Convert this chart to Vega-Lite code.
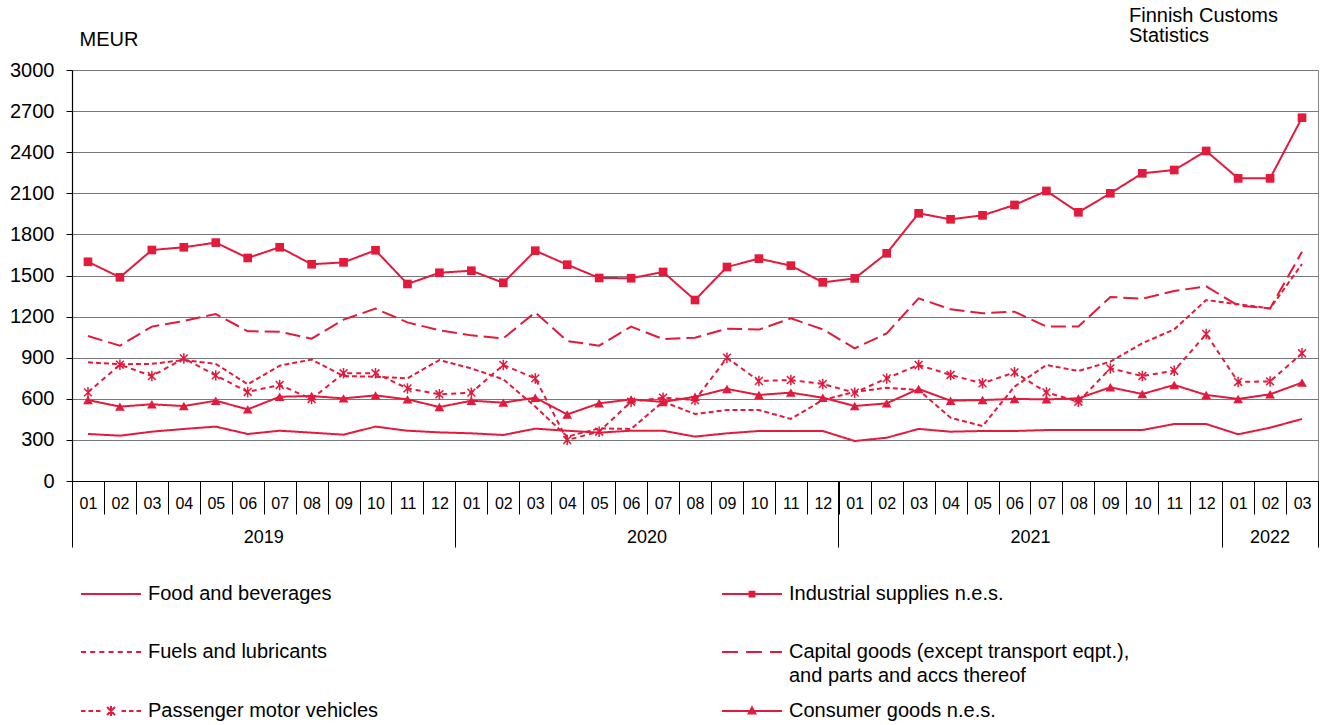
{
  "$schema": "https://vega.github.io/schema/vega-lite/v6.json",
  "autosize": {"type": "none"},
  "width": 1246,
  "height": 411,
  "padding": {"left": 72, "top": 70, "right": 4, "bottom": 244},
  "background": "white",
  "config": {
    "font": "Liberation Sans",
    "view": {"stroke": "#888888", "strokeWidth": 1},
    "style": {"guide-label": {"lineHeight": 24}}
  },
  "title": {
    "text": ["Finnish Customs", "Statistics"],
    "anchor": "end",
    "align": "left",
    "frame": "group",
    "dx": -189,
    "fontSize": 20,
    "fontWeight": "normal",
    "font": "Liberation Sans",
    "color": "black",
    "lineHeight": 20,
    "offset": -17
  },
  "data": {"values": [
    {"m":"2019-01","s":"Food and beverages","v":343},{"m":"2019-02","s":"Food and beverages","v":331},{"m":"2019-03","s":"Food and beverages","v":360},{"m":"2019-04","s":"Food and beverages","v":380},{"m":"2019-05","s":"Food and beverages","v":397},{"m":"2019-06","s":"Food and beverages","v":343},{"m":"2019-07","s":"Food and beverages","v":367},{"m":"2019-08","s":"Food and beverages","v":353},{"m":"2019-09","s":"Food and beverages","v":338},{"m":"2019-10","s":"Food and beverages","v":397},{"m":"2019-11","s":"Food and beverages","v":367},{"m":"2019-12","s":"Food and beverages","v":355},
    {"m":"2020-01","s":"Food and beverages","v":348},{"m":"2020-02","s":"Food and beverages","v":336},{"m":"2020-03","s":"Food and beverages","v":382},{"m":"2020-04","s":"Food and beverages","v":367},{"m":"2020-05","s":"Food and beverages","v":353},{"m":"2020-06","s":"Food and beverages","v":367},{"m":"2020-07","s":"Food and beverages","v":367},{"m":"2020-08","s":"Food and beverages","v":324},{"m":"2020-09","s":"Food and beverages","v":348},{"m":"2020-10","s":"Food and beverages","v":365},{"m":"2020-11","s":"Food and beverages","v":365},{"m":"2020-12","s":"Food and beverages","v":365},
    {"m":"2021-01","s":"Food and beverages","v":292},{"m":"2021-02","s":"Food and beverages","v":316},{"m":"2021-03","s":"Food and beverages","v":380},{"m":"2021-04","s":"Food and beverages","v":360},{"m":"2021-05","s":"Food and beverages","v":365},{"m":"2021-06","s":"Food and beverages","v":365},{"m":"2021-07","s":"Food and beverages","v":372},{"m":"2021-08","s":"Food and beverages","v":372},{"m":"2021-09","s":"Food and beverages","v":372},{"m":"2021-10","s":"Food and beverages","v":372},{"m":"2021-11","s":"Food and beverages","v":416},{"m":"2021-12","s":"Food and beverages","v":416},
    {"m":"2022-01","s":"Food and beverages","v":341},{"m":"2022-02","s":"Food and beverages","v":389},{"m":"2022-03","s":"Food and beverages","v":453},

    {"m":"2019-01","s":"Industrial supplies n.e.s.","v":1600},{"m":"2019-02","s":"Industrial supplies n.e.s.","v":1487},{"m":"2019-03","s":"Industrial supplies n.e.s.","v":1686},{"m":"2019-04","s":"Industrial supplies n.e.s.","v":1706},{"m":"2019-05","s":"Industrial supplies n.e.s.","v":1740},{"m":"2019-06","s":"Industrial supplies n.e.s.","v":1628},{"m":"2019-07","s":"Industrial supplies n.e.s.","v":1706},{"m":"2019-08","s":"Industrial supplies n.e.s.","v":1582},{"m":"2019-09","s":"Industrial supplies n.e.s.","v":1596},{"m":"2019-10","s":"Industrial supplies n.e.s.","v":1684},{"m":"2019-11","s":"Industrial supplies n.e.s.","v":1438},{"m":"2019-12","s":"Industrial supplies n.e.s.","v":1520},
    {"m":"2020-01","s":"Industrial supplies n.e.s.","v":1535},{"m":"2020-02","s":"Industrial supplies n.e.s.","v":1447},{"m":"2020-03","s":"Industrial supplies n.e.s.","v":1681},{"m":"2020-04","s":"Industrial supplies n.e.s.","v":1579},{"m":"2020-05","s":"Industrial supplies n.e.s.","v":1482},{"m":"2020-06","s":"Industrial supplies n.e.s.","v":1480},{"m":"2020-07","s":"Industrial supplies n.e.s.","v":1526},{"m":"2020-08","s":"Industrial supplies n.e.s.","v":1321},{"m":"2020-09","s":"Industrial supplies n.e.s.","v":1562},{"m":"2020-10","s":"Industrial supplies n.e.s.","v":1623},{"m":"2020-11","s":"Industrial supplies n.e.s.","v":1572},{"m":"2020-12","s":"Industrial supplies n.e.s.","v":1450},
    {"m":"2021-01","s":"Industrial supplies n.e.s.","v":1479},{"m":"2021-02","s":"Industrial supplies n.e.s.","v":1662},{"m":"2021-03","s":"Industrial supplies n.e.s.","v":1954},{"m":"2021-04","s":"Industrial supplies n.e.s.","v":1910},{"m":"2021-05","s":"Industrial supplies n.e.s.","v":1939},{"m":"2021-06","s":"Industrial supplies n.e.s.","v":2015},{"m":"2021-07","s":"Industrial supplies n.e.s.","v":2117},{"m":"2021-08","s":"Industrial supplies n.e.s.","v":1961},{"m":"2021-09","s":"Industrial supplies n.e.s.","v":2100},{"m":"2021-10","s":"Industrial supplies n.e.s.","v":2246},{"m":"2021-11","s":"Industrial supplies n.e.s.","v":2270},{"m":"2021-12","s":"Industrial supplies n.e.s.","v":2409},
    {"m":"2022-01","s":"Industrial supplies n.e.s.","v":2209},{"m":"2022-02","s":"Industrial supplies n.e.s.","v":2209},{"m":"2022-03","s":"Industrial supplies n.e.s.","v":2652},

    {"m":"2019-01","s":"Fuels and lubricants","v":866},{"m":"2019-02","s":"Fuels and lubricants","v":852},{"m":"2019-03","s":"Fuels and lubricants","v":855},{"m":"2019-04","s":"Fuels and lubricants","v":883},{"m":"2019-05","s":"Fuels and lubricants","v":855},{"m":"2019-06","s":"Fuels and lubricants","v":706},{"m":"2019-07","s":"Fuels and lubricants","v":842},{"m":"2019-08","s":"Fuels and lubricants","v":886},{"m":"2019-09","s":"Fuels and lubricants","v":766},{"m":"2019-10","s":"Fuels and lubricants","v":761},{"m":"2019-11","s":"Fuels and lubricants","v":749},{"m":"2019-12","s":"Fuels and lubricants","v":883},
    {"m":"2020-01","s":"Fuels and lubricants","v":822},{"m":"2020-02","s":"Fuels and lubricants","v":742},{"m":"2020-03","s":"Fuels and lubricants","v":543},{"m":"2020-04","s":"Fuels and lubricants","v":324},{"m":"2020-05","s":"Fuels and lubricants","v":384},{"m":"2020-06","s":"Fuels and lubricants","v":380},{"m":"2020-07","s":"Fuels and lubricants","v":579},{"m":"2020-08","s":"Fuels and lubricants","v":489},{"m":"2020-09","s":"Fuels and lubricants","v":518},{"m":"2020-10","s":"Fuels and lubricants","v":518},{"m":"2020-11","s":"Fuels and lubricants","v":453},{"m":"2020-12","s":"Fuels and lubricants","v":591},
    {"m":"2021-01","s":"Fuels and lubricants","v":650},{"m":"2021-02","s":"Fuels and lubricants","v":681},{"m":"2021-03","s":"Fuels and lubricants","v":664},{"m":"2021-04","s":"Fuels and lubricants","v":462},{"m":"2021-05","s":"Fuels and lubricants","v":401},{"m":"2021-06","s":"Fuels and lubricants","v":689},{"m":"2021-07","s":"Fuels and lubricants","v":847},{"m":"2021-08","s":"Fuels and lubricants","v":803},{"m":"2021-09","s":"Fuels and lubricants","v":871},{"m":"2021-10","s":"Fuels and lubricants","v":1005},{"m":"2021-11","s":"Fuels and lubricants","v":1107},{"m":"2021-12","s":"Fuels and lubricants","v":1321},
    {"m":"2022-01","s":"Fuels and lubricants","v":1290},{"m":"2022-02","s":"Fuels and lubricants","v":1260},{"m":"2022-03","s":"Fuels and lubricants","v":1584},

    {"m":"2019-01","s":"Capital goods (except transport eqpt.), and parts and accs thereof","v":1058},{"m":"2019-02","s":"Capital goods (except transport eqpt.), and parts and accs thereof","v":988},{"m":"2019-03","s":"Capital goods (except transport eqpt.), and parts and accs thereof","v":1127},{"m":"2019-04","s":"Capital goods (except transport eqpt.), and parts and accs thereof","v":1168},{"m":"2019-05","s":"Capital goods (except transport eqpt.), and parts and accs thereof","v":1219},{"m":"2019-06","s":"Capital goods (except transport eqpt.), and parts and accs thereof","v":1093},{"m":"2019-07","s":"Capital goods (except transport eqpt.), and parts and accs thereof","v":1090},{"m":"2019-08","s":"Capital goods (except transport eqpt.), and parts and accs thereof","v":1039},{"m":"2019-09","s":"Capital goods (except transport eqpt.), and parts and accs thereof","v":1178},{"m":"2019-10","s":"Capital goods (except transport eqpt.), and parts and accs thereof","v":1258},{"m":"2019-11","s":"Capital goods (except transport eqpt.), and parts and accs thereof","v":1158},{"m":"2019-12","s":"Capital goods (except transport eqpt.), and parts and accs thereof","v":1100},
    {"m":"2020-01","s":"Capital goods (except transport eqpt.), and parts and accs thereof","v":1063},{"m":"2020-02","s":"Capital goods (except transport eqpt.), and parts and accs thereof","v":1041},{"m":"2020-03","s":"Capital goods (except transport eqpt.), and parts and accs thereof","v":1231},{"m":"2020-04","s":"Capital goods (except transport eqpt.), and parts and accs thereof","v":1022},{"m":"2020-05","s":"Capital goods (except transport eqpt.), and parts and accs thereof","v":988},{"m":"2020-06","s":"Capital goods (except transport eqpt.), and parts and accs thereof","v":1127},{"m":"2020-07","s":"Capital goods (except transport eqpt.), and parts and accs thereof","v":1036},{"m":"2020-08","s":"Capital goods (except transport eqpt.), and parts and accs thereof","v":1046},{"m":"2020-09","s":"Capital goods (except transport eqpt.), and parts and accs thereof","v":1112},{"m":"2020-10","s":"Capital goods (except transport eqpt.), and parts and accs thereof","v":1105},{"m":"2020-11","s":"Capital goods (except transport eqpt.), and parts and accs thereof","v":1187},{"m":"2020-12","s":"Capital goods (except transport eqpt.), and parts and accs thereof","v":1107},
    {"m":"2021-01","s":"Capital goods (except transport eqpt.), and parts and accs thereof","v":968},{"m":"2021-02","s":"Capital goods (except transport eqpt.), and parts and accs thereof","v":1078},{"m":"2021-03","s":"Capital goods (except transport eqpt.), and parts and accs thereof","v":1333},{"m":"2021-04","s":"Capital goods (except transport eqpt.), and parts and accs thereof","v":1253},{"m":"2021-05","s":"Capital goods (except transport eqpt.), and parts and accs thereof","v":1224},{"m":"2021-06","s":"Capital goods (except transport eqpt.), and parts and accs thereof","v":1236},{"m":"2021-07","s":"Capital goods (except transport eqpt.), and parts and accs thereof","v":1127},{"m":"2021-08","s":"Capital goods (except transport eqpt.), and parts and accs thereof","v":1127},{"m":"2021-09","s":"Capital goods (except transport eqpt.), and parts and accs thereof","v":1343},{"m":"2021-10","s":"Capital goods (except transport eqpt.), and parts and accs thereof","v":1331},{"m":"2021-11","s":"Capital goods (except transport eqpt.), and parts and accs thereof","v":1387},{"m":"2021-12","s":"Capital goods (except transport eqpt.), and parts and accs thereof","v":1421},
    {"m":"2022-01","s":"Capital goods (except transport eqpt.), and parts and accs thereof","v":1280},{"m":"2022-02","s":"Capital goods (except transport eqpt.), and parts and accs thereof","v":1260},{"m":"2022-03","s":"Capital goods (except transport eqpt.), and parts and accs thereof","v":1674},

    {"m":"2019-01","s":"Passenger motor vehicles","v":647},{"m":"2019-02","s":"Passenger motor vehicles","v":849},{"m":"2019-03","s":"Passenger motor vehicles","v":766},{"m":"2019-04","s":"Passenger motor vehicles","v":895},{"m":"2019-05","s":"Passenger motor vehicles","v":771},{"m":"2019-06","s":"Passenger motor vehicles","v":650},{"m":"2019-07","s":"Passenger motor vehicles","v":701},{"m":"2019-08","s":"Passenger motor vehicles","v":599},{"m":"2019-09","s":"Passenger motor vehicles","v":786},{"m":"2019-10","s":"Passenger motor vehicles","v":786},{"m":"2019-11","s":"Passenger motor vehicles","v":676},{"m":"2019-12","s":"Passenger motor vehicles","v":633},
    {"m":"2020-01","s":"Passenger motor vehicles","v":645},{"m":"2020-02","s":"Passenger motor vehicles","v":847},{"m":"2020-03","s":"Passenger motor vehicles","v":749},{"m":"2020-04","s":"Passenger motor vehicles","v":299},{"m":"2020-05","s":"Passenger motor vehicles","v":360},{"m":"2020-06","s":"Passenger motor vehicles","v":579},{"m":"2020-07","s":"Passenger motor vehicles","v":608},{"m":"2020-08","s":"Passenger motor vehicles","v":591},{"m":"2020-09","s":"Passenger motor vehicles","v":900},{"m":"2020-10","s":"Passenger motor vehicles","v":730},{"m":"2020-11","s":"Passenger motor vehicles","v":737},{"m":"2020-12","s":"Passenger motor vehicles","v":708},
    {"m":"2021-01","s":"Passenger motor vehicles","v":645},{"m":"2021-02","s":"Passenger motor vehicles","v":749},{"m":"2021-03","s":"Passenger motor vehicles","v":847},{"m":"2021-04","s":"Passenger motor vehicles","v":774},{"m":"2021-05","s":"Passenger motor vehicles","v":713},{"m":"2021-06","s":"Passenger motor vehicles","v":793},{"m":"2021-07","s":"Passenger motor vehicles","v":647},{"m":"2021-08","s":"Passenger motor vehicles","v":579},{"m":"2021-09","s":"Passenger motor vehicles","v":822},{"m":"2021-10","s":"Passenger motor vehicles","v":766},{"m":"2021-11","s":"Passenger motor vehicles","v":805},{"m":"2021-12","s":"Passenger motor vehicles","v":1073},
    {"m":"2022-01","s":"Passenger motor vehicles","v":723},{"m":"2022-02","s":"Passenger motor vehicles","v":727},{"m":"2022-03","s":"Passenger motor vehicles","v":932},

    {"m":"2019-01","s":"Consumer goods n.e.s.","v":591},{"m":"2019-02","s":"Consumer goods n.e.s.","v":543},{"m":"2019-03","s":"Consumer goods n.e.s.","v":560},{"m":"2019-04","s":"Consumer goods n.e.s.","v":547},{"m":"2019-05","s":"Consumer goods n.e.s.","v":586},{"m":"2019-06","s":"Consumer goods n.e.s.","v":523},{"m":"2019-07","s":"Consumer goods n.e.s.","v":615},{"m":"2019-08","s":"Consumer goods n.e.s.","v":620},{"m":"2019-09","s":"Consumer goods n.e.s.","v":603},{"m":"2019-10","s":"Consumer goods n.e.s.","v":625},{"m":"2019-11","s":"Consumer goods n.e.s.","v":596},{"m":"2019-12","s":"Consumer goods n.e.s.","v":540},
    {"m":"2020-01","s":"Consumer goods n.e.s.","v":586},{"m":"2020-02","s":"Consumer goods n.e.s.","v":572},{"m":"2020-03","s":"Consumer goods n.e.s.","v":608},{"m":"2020-04","s":"Consumer goods n.e.s.","v":486},{"m":"2020-05","s":"Consumer goods n.e.s.","v":567},{"m":"2020-06","s":"Consumer goods n.e.s.","v":596},{"m":"2020-07","s":"Consumer goods n.e.s.","v":577},{"m":"2020-08","s":"Consumer goods n.e.s.","v":615},{"m":"2020-09","s":"Consumer goods n.e.s.","v":672},{"m":"2020-10","s":"Consumer goods n.e.s.","v":628},{"m":"2020-11","s":"Consumer goods n.e.s.","v":645},{"m":"2020-12","s":"Consumer goods n.e.s.","v":608},
    {"m":"2021-01","s":"Consumer goods n.e.s.","v":547},{"m":"2021-02","s":"Consumer goods n.e.s.","v":567},{"m":"2021-03","s":"Consumer goods n.e.s.","v":672},{"m":"2021-04","s":"Consumer goods n.e.s.","v":586},{"m":"2021-05","s":"Consumer goods n.e.s.","v":591},{"m":"2021-06","s":"Consumer goods n.e.s.","v":599},{"m":"2021-07","s":"Consumer goods n.e.s.","v":596},{"m":"2021-08","s":"Consumer goods n.e.s.","v":603},{"m":"2021-09","s":"Consumer goods n.e.s.","v":684},{"m":"2021-10","s":"Consumer goods n.e.s.","v":635},{"m":"2021-11","s":"Consumer goods n.e.s.","v":701},{"m":"2021-12","s":"Consumer goods n.e.s.","v":628},
    {"m":"2022-01","s":"Consumer goods n.e.s.","v":599},{"m":"2022-02","s":"Consumer goods n.e.s.","v":633},{"m":"2022-03","s":"Consumer goods n.e.s.","v":718}
  ]},
  "resolve": {"axis": {"x": "independent"}, "scale": {"shape": "independent"}},
  "layer": [
    {
      "mark": {"type": "line", "color": "#e21a3c", "strokeWidth": 2},
      "encoding": {
        "x": {"field": "m", "type": "ordinal", "bandPosition": 0.5,
              "scale": {"type": "band", "paddingInner": 0, "paddingOuter": 0},
              "axis": {"title": null, "orient": "bottom", "tickBand": "extent", "tickSize": 33, "tickColor": "#000000", "tickWidth": 1,
                       "domainColor": "#000000", "domainWidth": 1.2, "grid": false,
                       "labelExpr": "datum.value ? substring(datum.value, 5, 7) : ''", "labelAngle": 0, "labelFontSize": 16, "labelColor": "#000000",
                       "labelBaseline": "middle", "labelPadding": -11, "labelOverlap": false, "labelFlush": false}},
        "y": {"field": "v", "type": "quantitative",
              "scale": {"domain": [0, 3000], "nice": false, "zero": true},
              "axis": {"values": [0, 300, 600, 900, 1200, 1500, 1800, 2100, 2400, 2700, 3000], "format": "d",
                       "title": "MEUR", "titleAngle": 0, "titleAlign": "left", "titleBaseline": "alphabetic",
                       "titleX": 7, "titleY": -25, "titleFontSize": 20, "titleFontWeight": "normal", "titleColor": "#000000",
                       "domainColor": "#000000", "domainWidth": 1.2, "tickColor": "#000000", "tickSize": 6,
                       "gridColor": "#777777", "gridWidth": 1,
                       "labelFontSize": 20, "labelColor": "#000000", "labelPadding": 12}},
        "strokeDash": {"field": "s", "type": "nominal", "legend": null,
          "scale": {"domain": ["Food and beverages", "Industrial supplies n.e.s.", "Fuels and lubricants", "Capital goods (except transport eqpt.), and parts and accs thereof", "Passenger motor vehicles", "Consumer goods n.e.s."],
                    "range": [[1, 0], [1, 0], [5, 3], [15, 6], [5, 4], [1, 0]]}}
      }
    },
    {
      "transform": [{"filter": "datum.s == 'Industrial supplies n.e.s.'"}],
      "mark": {"type": "point", "shape": "square", "filled": true, "color": "#e21a3c", "size": 75, "opacity": 1},
      "encoding": {
        "x": {"field": "m", "type": "ordinal", "bandPosition": 0.5,
              "scale": {"type": "band", "paddingInner": 0, "paddingOuter": 0},
              "axis": {"title": null, "orient": "bottom", "values": ["2019-07", "2020-07", "2021-07", "2022-02"],
                       "labelExpr": "substring(datum.value, 0, 4)", "ticks": false, "tickSize": 0, "domain": false, "grid": false,
                       "labelAngle": 0, "labelFontSize": 18, "labelColor": "#000000", "labelBaseline": "middle", "labelPadding": 56,
                       "labelOffset": {"condition": {"test": "datum.value == '2022-02'", "value": 0}, "value": -16},
                       "labelOverlap": false, "labelFlush": false}},
        "y": {"field": "v", "type": "quantitative"}
      }
    },
    {
      "transform": [{"filter": "datum.s == 'Consumer goods n.e.s.'"}],
      "mark": {"type": "point", "shape": "triangle-up", "filled": true, "color": "#e21a3c", "size": 95, "opacity": 1},
      "encoding": {
        "x": {"field": "m", "type": "ordinal", "bandPosition": 0.5,
              "scale": {"type": "band", "paddingInner": 0, "paddingOuter": 0},
              "axis": {"title": null, "orient": "bottom", "values": ["2019-01", "2020-01", "2021-01", "2022-01"], "bandPosition": 0,
                       "labels": false, "domain": false, "grid": false, "tickSize": 66, "tickColor": "#000000", "tickWidth": 1}},
        "y": {"field": "v", "type": "quantitative"}
      }
    },
    {
      "transform": [{"filter": "datum.s == 'Passenger motor vehicles'"}],
      "mark": {"type": "point", "shape": "M-0.75,-0.75L0.75,0.75M-0.75,0.75L0.75,-0.75M0,-1L0,1", "filled": false, "color": "#e21a3c", "size": 110, "strokeWidth": 1.5, "opacity": 1},
      "encoding": {
        "x": {"field": "m", "type": "ordinal", "bandPosition": 0.5,
              "scale": {"type": "band", "paddingInner": 0, "paddingOuter": 0},
              "axis": {"title": null, "orient": "bottom", "values": ["2022-03"], "bandPosition": 1,
                       "labels": false, "domain": false, "grid": false, "tickSize": 66, "tickColor": "#000000", "tickWidth": 1}},
        "y": {"field": "v", "type": "quantitative"}
      }
    },
    {
      "mark": {"type": "point", "filled": false, "color": "#e21a3c", "strokeWidth": 2, "opacity": 0},
      "encoding": {
        "x": {"field": "m", "type": "ordinal", "bandPosition": 0.5,
              "scale": {"type": "band", "paddingInner": 0, "paddingOuter": 0}, "axis": null},
        "y": {"field": "v", "type": "quantitative"},
        "shape": {"field": "s", "type": "nominal",
          "scale": {"domain": ["Food and beverages", "Fuels and lubricants", "Passenger motor vehicles", "Industrial supplies n.e.s.", "Capital goods (except transport eqpt.), and parts and accs thereof", "Consumer goods n.e.s."],
                    "range": [
                      "M0,1.2L0,1.2M-1.25,0L1.25,0",
                      "M0,1.2L0,1.2M-1.25,0L-1.042,0M-0.867,0L-0.659,0M-0.485,0L-0.277,0M-0.102,0L0.106,0M0.281,0L0.489,0M0.663,0L0.871,0M1.046,0L1.254,0",
                      "M0,1.2L0,1.2M-1.25,0L-1.062,0M-0.938,0L-0.75,0M-0.625,0L-0.438,0M-0.165,-0.165L0.165,0.165M-0.165,0.165L0.165,-0.165M0,-0.21L0,0.21M0.438,0L0.625,0M0.75,0L0.938,0M1.062,0L1.25,0",
                      "M0,1.2L0,1.2M-1.25,0L1.25,0M-0.1,-0.1L0.1,-0.1L0.1,0.1L-0.1,0.1ZM-0.1,-0.03L0.1,-0.03M-0.1,0.037L0.1,0.037",
                      "M0,1.2L0,1.2M-1.25,0L-0.583,0M-0.25,0L0.415,0M0.75,0L1.25,0",
                      "M0,1.2L0,1.2M-1.25,0L1.25,0M0,-0.15L0.135,0.105L-0.135,0.105ZM-0.06,0.045L0.06,0.045M0,-0.075L0,0.105"
                    ]},
          "legend": {"title": null, "orient": "none", "legendX": 14, "legendY": 499, "columns": 2, "columnPadding": 339, "rowPadding": 0,
                     "padding": 0, "symbolSize": 2304, "symbolStrokeWidth": 2, "symbolStrokeColor": "#e21a3c", "symbolFillColor": "#e21a3c",
                     "symbolOpacity": 1, "labelOffset": 12, "labelFontSize": 20, "labelColor": "#000000", "labelLimit": 0,
                     "labelExpr": "datum.label == 'Capital goods (except transport eqpt.), and parts and accs thereof' ? ['Capital goods (except transport eqpt.),', 'and parts and accs thereof'] : datum.label"}}
      }
    }
  ]
}
